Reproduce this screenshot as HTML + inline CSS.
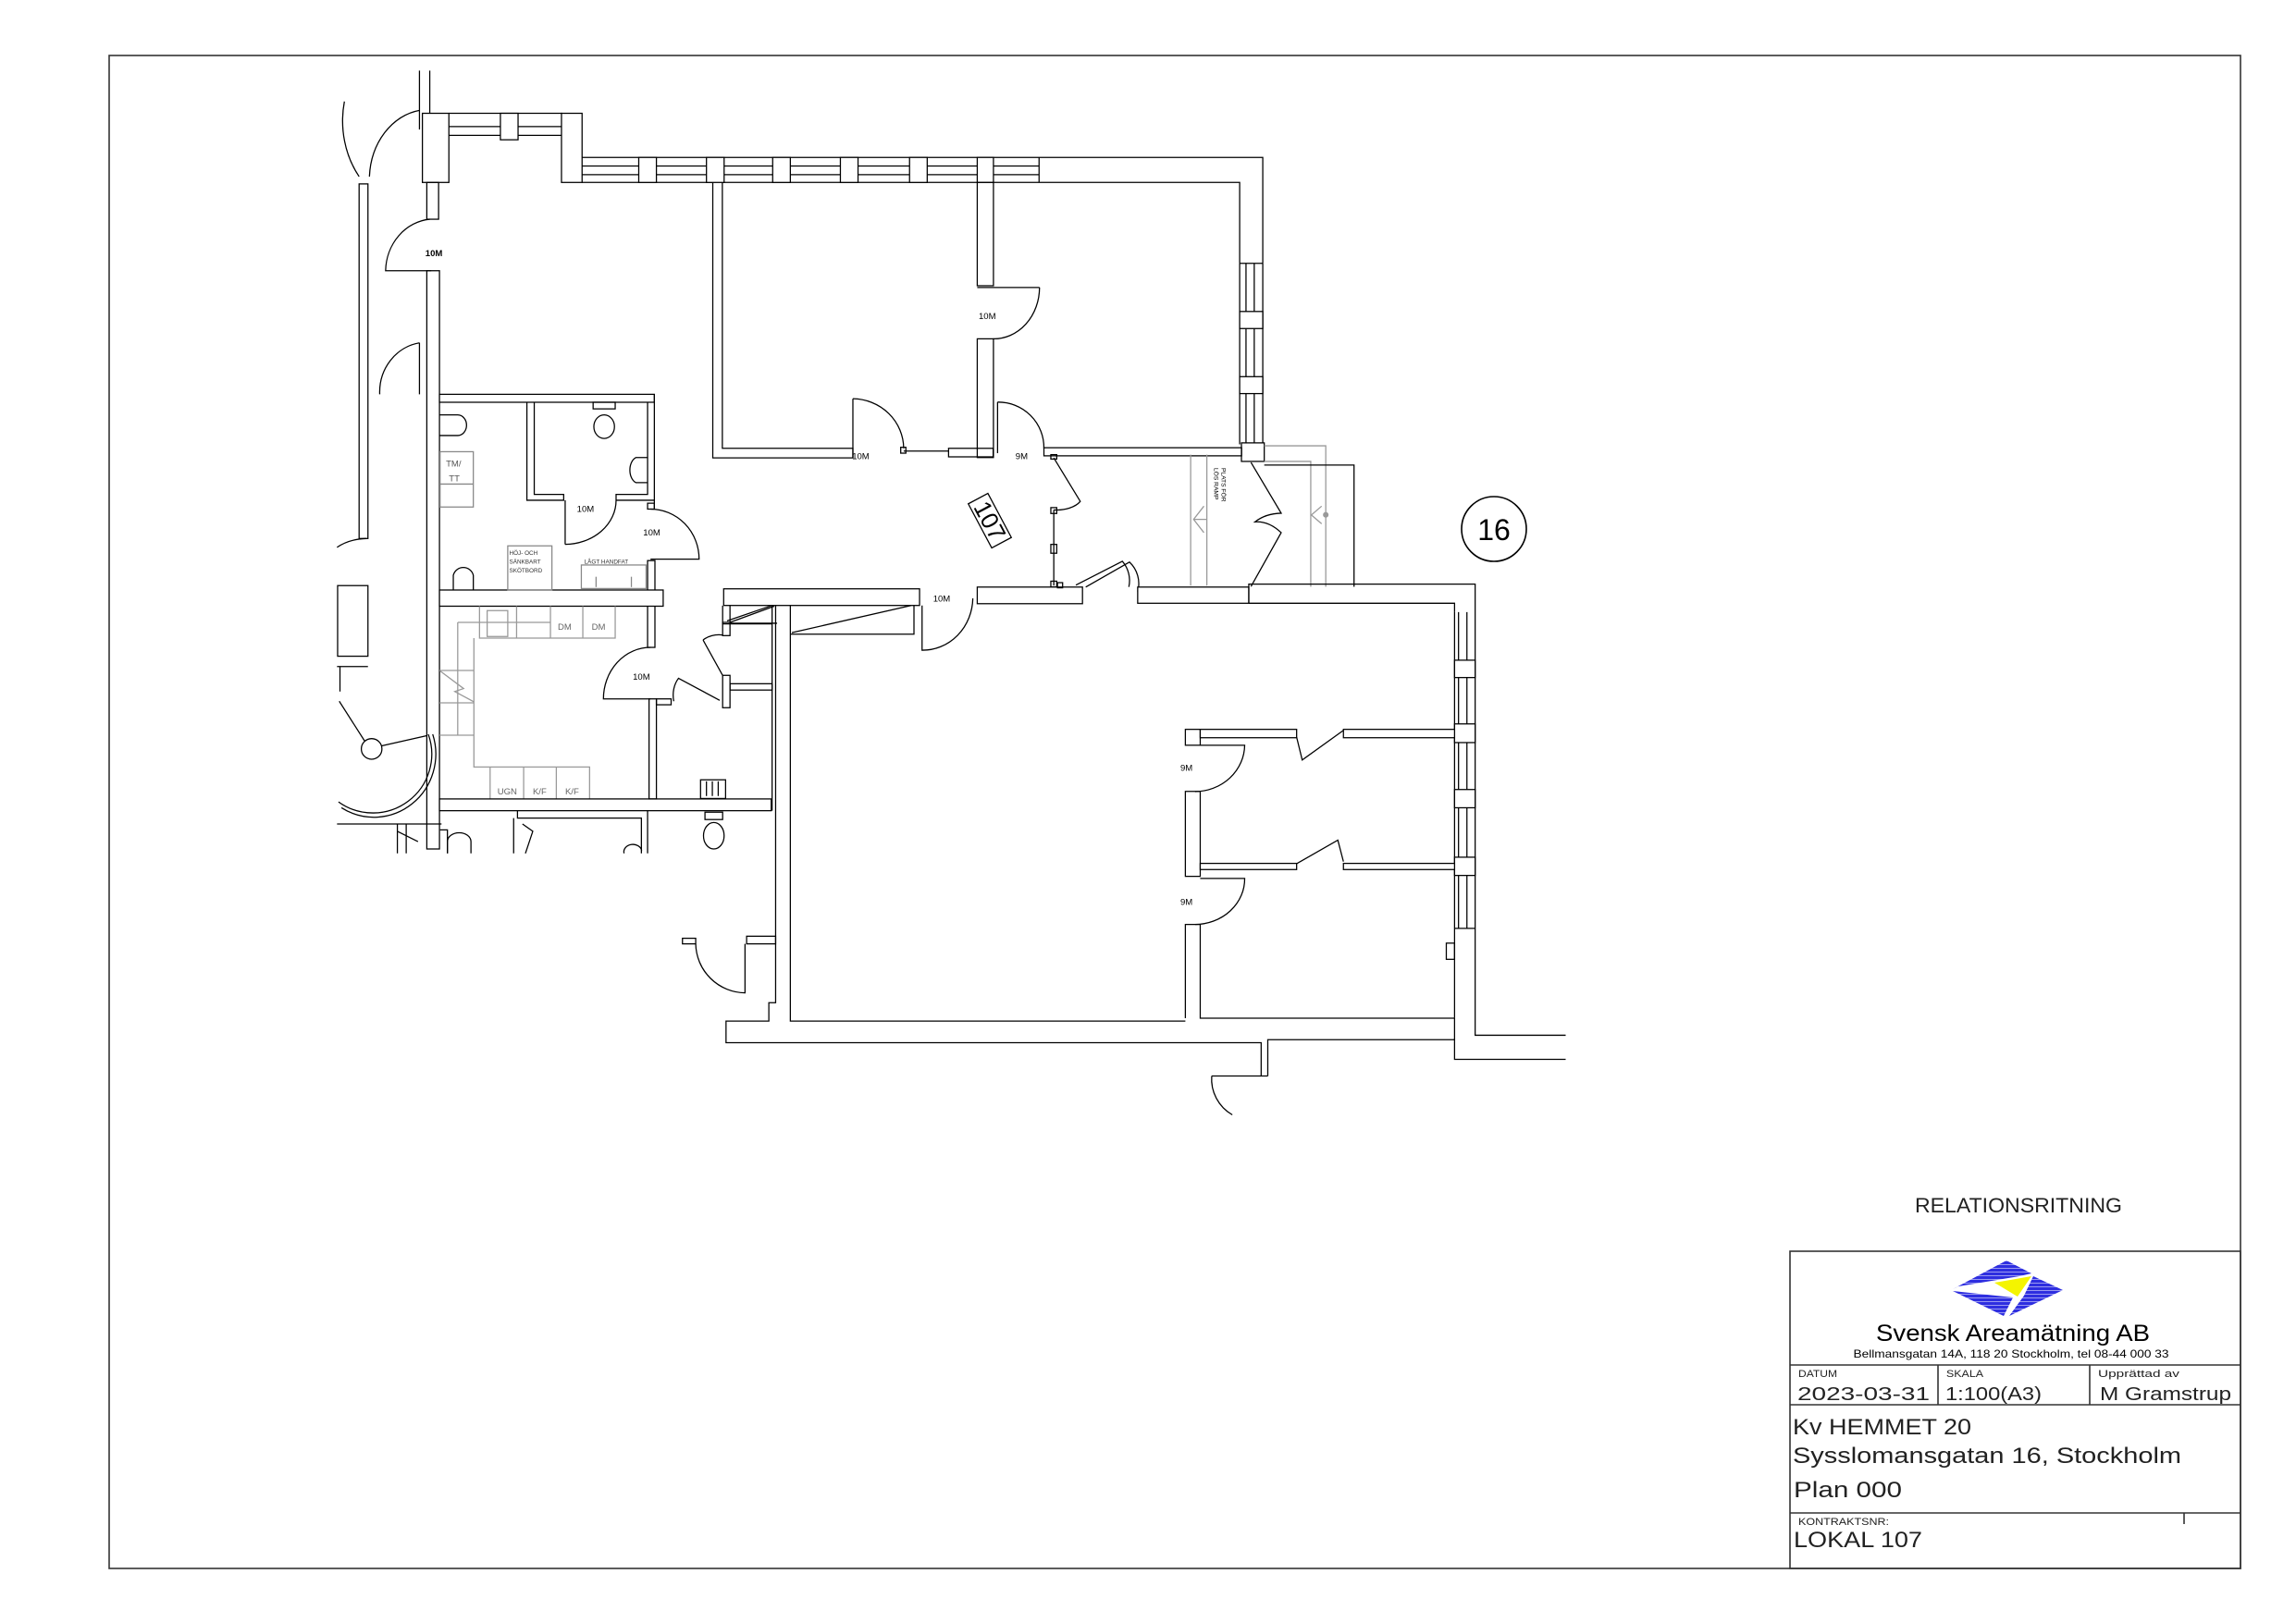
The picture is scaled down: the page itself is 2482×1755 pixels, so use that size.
<!DOCTYPE html>
<html><head><meta charset="utf-8"><style>
html,body{margin:0;padding:0;background:#fff}
svg{display:block}
text{font-family:"Liberation Sans",sans-serif}
</style></head><body>
<svg width="2482" height="1755" viewBox="0 0 2482 1755" xmlns="http://www.w3.org/2000/svg">
<defs>
<pattern id="hat" width="4" height="4" patternUnits="userSpaceOnUse">
<rect width="4" height="4" fill="#2e2ee0"/><rect y="3" width="4" height="1" fill="#9a9af0"/>
</pattern>
</defs>
<rect x="0" y="0" width="2482" height="1755" fill="#fff"/>
<!-- frame -->
<rect x="118" y="60" width="2304" height="1636" fill="none" stroke="#333" stroke-width="1.6"/>

<g transform="scale(1.591)" fill="none" stroke="#000" stroke-width="0.8">
<!-- TOP LEFT -->
<line x1="292" y1="48" x2="292" y2="88"/>
<rect x="287" y="77" width="18" height="47" fill="#fff"/>
<line x1="305" y1="77" x2="382" y2="77"/>
<line x1="305" y1="86" x2="382" y2="86"/>
<line x1="305" y1="92" x2="382" y2="92"/>
<rect x="340" y="77" width="12" height="18" fill="#fff"/>
<rect x="381.5" y="77" width="14" height="47" fill="#fff"/>
<rect x="290" y="124" width="8" height="25"/>
<path d="M292 149 A33 36 0 0 0 262 184 H293"/>
<rect x="290" y="184" width="8.6" height="393"/>
<!-- far left -->
<rect x="244" y="125" width="6" height="241"/>
<path d="M234 69 A50 60 0 0 0 244 120"/>
<path d="M285 75 A40 48 0 0 0 251 120"/>
<line x1="285" y1="48" x2="285" y2="88"/>
<path d="M285 233 A32 34 0 0 0 258 268"/>
<line x1="285" y1="233" x2="285" y2="268"/>
<path d="M229 372 A30 20 0 0 1 249 366"/>
<rect x="229.4" y="398" width="20.6" height="48"/>
<path d="M291 499 A40 40 0 0 1 230 545"/>
<path d="M294 499 A42 43 0 0 1 232 549"/>
<circle cx="252.5" cy="509" r="7"/>
<line x1="230.5" y1="476.6" x2="248" y2="504"/>
<line x1="259" y1="507" x2="290" y2="500"/>
<line x1="229" y1="453" x2="250" y2="453"/>
<line x1="231" y1="453" x2="231" y2="470"/>
<line x1="229" y1="560" x2="300" y2="560"/>
<path d="M270 560 V580 M276 560 V580 M270 565 L284 572"/>
<!-- TOP WALL -->
<path d="M395.5 107 H858 V179"/>
<path d="M395.5 124 H484.3"/>
<path d="M490.8 124 H664 M675 124 H842.3 V179"/>
<line x1="395.5" y1="112.8" x2="706" y2="112.8"/>
<line x1="395.5" y1="118.7" x2="706" y2="118.7"/>
<line x1="706" y1="107" x2="706" y2="124"/>
<g fill="#fff">
<rect x="434" y="107" width="12" height="17"/>
<rect x="480" y="107" width="12" height="17"/>
<rect x="525" y="107" width="12" height="17"/>
<rect x="571" y="107" width="12" height="17"/>
<rect x="618" y="107" width="12" height="17"/>
<rect x="664" y="107" width="11" height="17"/>
</g>
<!-- right wall windows -->
<path d="M842.3 179 H858"/>
<line x1="846.6" y1="179" x2="846.6" y2="302"/>
<line x1="852.2" y1="179" x2="852.2" y2="302"/>
<line x1="842.3" y1="179" x2="842.3" y2="302"/>
<line x1="858" y1="179" x2="858" y2="302"/>
<rect x="842.3" y="211.7" width="15.7" height="11.6" fill="#fff"/>
<rect x="842.3" y="256" width="15.7" height="11.5" fill="#fff"/>
<rect x="843.5" y="301" width="15.5" height="12.6" fill="#fff"/>
<!-- room walls -->
<path d="M484.3 124 V311.2 H579.5 V304.7 H490.8 V124"/>
<path d="M579.5 271 V311"/>
<path d="M579.5 271 A35 34 0 0 1 614 304.7"/>
<line x1="614" y1="306.6" x2="644.5" y2="306.6"/>
<rect x="612" y="304" width="3.5" height="4"/>
<rect x="644.5" y="304.7" width="30.3" height="5.8"/>
<rect x="664" y="124" width="11" height="70.2"/>
<line x1="664" y1="195.4" x2="706.3" y2="195.4"/>
<path d="M706.3 195.4 A31 35 0 0 1 674.8 230.3"/>
<path d="M664 230.3 H675 V311 H664 Z"/>
<line x1="677.8" y1="273.3" x2="677.8" y2="308"/>
<path d="M677.8 273.3 A31 31 0 0 1 709.3 304.7"/>
<rect x="709.3" y="304.3" width="134.3" height="5.5"/>
<text x="579" y="312" font-size="6" stroke="none" fill="#000">10M</text>
<text x="665" y="217" font-size="6" stroke="none" fill="#000">10M</text>
<text x="690" y="312" font-size="6" stroke="none" fill="#000">9M</text>
<text x="289" y="174" font-size="6" font-weight="bold" stroke="none" fill="#000">10M</text>
<!-- door near 107 -->
<path d="M716 311.2 L734 340.8 A18 10 0 0 1 716 346.6"/>
<line x1="716" y1="346.6" x2="716" y2="398"/>
<rect x="714" y="345" width="4" height="4"/>
<rect x="714" y="370" width="4" height="6"/>
<rect x="714" y="395" width="4" height="4"/>
<rect x="714" y="309" width="4" height="3"/>
<path d="M731 397.7 L762.6 381.5 A20 20 0 0 1 767 398.9"/>
<!-- ramp area -->
<g stroke="#999">
<line x1="809" y1="309" x2="809" y2="398"/>
<line x1="820" y1="309" x2="820" y2="398"/>
<path d="M818 344 L811 353 L818 362 M811 353 H820"/>
<path d="M859 313.6 H890.6 V398.8 M859 303 H900.8 V398.8"/>
<path d="M898 344 L891 350 L898 356"/>
<circle cx="900.8" cy="349.9" r="1.5" fill="#999"/>
</g>
<path d="M859 316.1 H920 V398.8"/>
<path d="M850 314.3 L870.5 348.8 Q860 349 852.7 354.7 Q862 354 870.5 362 L850 398.6"/>
<text transform="translate(830 318) rotate(90)" font-size="4.2" stroke="none" fill="#000">PLATS FÖR</text>
<text transform="translate(825 318) rotate(90)" font-size="4.2" stroke="none" fill="#000">LÖS RAMP</text>
<!-- big room top wall -->
<rect x="664" y="399" width="71.5" height="11.3" fill="#fff"/>
<rect x="718.5" y="396" width="3.5" height="3.5"/>
<path d="M737.7 399 L767.4 382 A20 20 0 0 1 773 402"/>
<rect x="773" y="399" width="75.5" height="11" fill="#fff"/>
<path d="M848.5 410 V397 H1002.3 V703.6 H1063.8"/>
<path d="M848.5 410 H988.3 V416"/>
<line x1="988.3" y1="416" x2="988.3" y2="691.6"/>
<line x1="991" y1="416" x2="991" y2="631"/>
<line x1="996.7" y1="416" x2="996.7" y2="631"/>
<line x1="988.3" y1="631" x2="1002.3" y2="631"/>
<g fill="#fff">
<rect x="988.3" y="448.7" width="14" height="11.8"/>
<rect x="988.3" y="492" width="14" height="12.7"/>
<rect x="988.3" y="536.6" width="14" height="12.4"/>
<rect x="988.3" y="582.6" width="14" height="12.4"/>
</g>
<rect x="982.7" y="641" width="5.6" height="11"/>
<path d="M988.3 706 V720 H1063.8"/>
<!-- bottom outer -->
<path d="M527 411.5 V681.5 H522.4 V694 H493.3 V708.7 H856.9 V731.3"/>
<path d="M861.4 731.3 V706.6 H988.3 V691.6"/>
<path d="M823.3 731.3 H861.4 M823.3 731.3 A28 28 0 0 0 837.3 757.7"/>
<path d="M537 411.5 V694 H805.4"/>
<!-- partition -->
<path d="M805.4 692 V628.3 H815.5 V692 H988.3"/>
<path d="M805.4 595.6 V537.9 H815.5 V595.6 Z"/>
<rect x="805.4" y="495.7" width="10.1" height="10.8"/>
<rect x="815.5" y="495.7" width="65.5" height="5.7" fill="#fff"/>
<rect x="912.8" y="495.7" width="75.5" height="5.7" fill="#fff"/>
<rect x="815.5" y="586.8" width="65.5" height="4.2" fill="#fff"/>
<rect x="912.8" y="586.8" width="75.5" height="4.2" fill="#fff"/>
<path d="M881 501 L884.8 516.5 L912.8 496.4"/>
<path d="M881 587 L909 571 L912.8 585.6"/>
<path d="M815.5 506.5 H845.7 A34 32 0 0 1 812 538"/>
<path d="M815.5 597 H845.7 A34 31 0 0 1 812 628.3"/>
<text x="802" y="524" font-size="6" stroke="none" fill="#000">9M</text>
<text x="802" y="615" font-size="6" stroke="none" fill="#000">9M</text>
<!-- top-left of big room -->
<rect x="491.7" y="400.2" width="133.1" height="11.3" fill="#fff"/>
<path d="M496 411.5 V423.6 H528 M496 423 L526 412"/>
<path d="M537 431 H621 V411.5 M538 430 L619 411.5"/>
<path d="M626.5 411.5 V441.9 A34 36 0 0 0 661 406.7"/>
<text x="634" y="409" font-size="6" stroke="none" fill="#000">10M</text>
<!-- WC / kitchen -->
<rect x="298.6" y="268" width="146" height="5.4" fill="#fff"/>
<path d="M358 273.4 V340 H383 V336 H363 V273.4"/>
<path d="M418.6 340 V336 H440 V273.4 M418.6 340 H444.6"/>
<line x1="444.6" y1="268" x2="444.6" y2="346"/>
<rect x="440" y="342" width="4.6" height="4"/>
<line x1="384" y1="340" x2="384" y2="370"/>
<path d="M384 370 A35 30 0 0 0 418.6 340"/>
<text x="392" y="348" font-size="6" stroke="none" fill="#000">10M</text>
<path d="M442 346 A33 34 0 0 1 475 380 H442"/>
<text x="437" y="364" font-size="6" stroke="none" fill="#000">10M</text>
<rect x="440" y="381" width="5" height="59"/>
<rect x="298.6" y="401" width="152" height="11" fill="#fff"/>
<rect x="403" y="273.4" width="15" height="4.5"/>
<ellipse cx="410.5" cy="290" rx="7" ry="8"/>
<path d="M440 311 H432 A6 9 0 0 0 432 328 H440"/>
<path d="M298.6 282 H311 A6 7 0 0 1 311 296 H298.6"/>
<g stroke="#888">
<rect x="299" y="307" width="22.6" height="37.6"/>
<line x1="299" y1="329" x2="321.6" y2="329"/>
<rect x="345" y="371" width="30" height="30"/>
<rect x="395" y="384" width="44" height="16"/>
<line x1="405" y1="392" x2="405" y2="399"/><line x1="429" y1="392" x2="429" y2="399"/>
</g>
<text x="303" y="317" font-size="6" stroke="none" fill="#555">TM/</text>
<text x="305" y="327" font-size="6" stroke="none" fill="#555">TT</text>
<text x="346" y="377" font-size="4" stroke="none" fill="#333">HÖJ- OCH</text>
<text x="346" y="383" font-size="4" stroke="none" fill="#333">SÄNKBART</text>
<text x="346" y="389" font-size="4" stroke="none" fill="#333">SKÖTBORD</text>
<text x="397" y="383" font-size="4" stroke="none" fill="#333">LÅGT HANDFAT</text>
<path d="M308 401 V391 A7 7 0 0 1 321.6 391 V401"/>
<!-- kitchen counters -->
<g stroke="#999">
<path d="M325.8 412 V433.7 H418 V412"/>
<path d="M311 423 H374 M311 423 V499.7 M322 433.7 V521.3 H400.6 V543.7 M333 521.3 V543.7"/>
<line x1="298.6" y1="455.7" x2="322" y2="455.7"/>
<line x1="298.6" y1="477.7" x2="322" y2="477.7"/>
<line x1="298.6" y1="499.7" x2="322" y2="499.7"/>
<line x1="374" y1="412" x2="374" y2="433.7"/><line x1="396" y1="412" x2="396" y2="433.7"/>
<line x1="351" y1="412" x2="351" y2="433.7"/>
<rect x="331" y="415" width="14" height="17.6"/>
<line x1="355.8" y1="521.3" x2="355.8" y2="543.7"/><line x1="378" y1="521.3" x2="378" y2="543.7"/>
<path d="M299 456 L315 468 L309 470 L322 477"/>
</g>
<text x="379" y="428" font-size="6" stroke="none" fill="#666">DM</text>
<text x="402" y="428" font-size="6" stroke="none" fill="#666">DM</text>
<text x="338" y="540" font-size="6" stroke="none" fill="#666">UGN</text>
<text x="362" y="540" font-size="6" stroke="none" fill="#666">K/F</text>
<text x="384" y="540" font-size="6" stroke="none" fill="#666">K/F</text>
<rect x="298.6" y="543" width="225.4" height="8" fill="#fff"/>
<path d="M442 440 A32 35 0 0 0 410 475 H442"/>
<text x="430" y="462" font-size="6" stroke="none" fill="#000">10M</text>
<rect x="441" y="475" width="5" height="68"/>
<rect x="446" y="475" width="10" height="4"/>
<path d="M457.8 476.6 A12 16 0 0 1 461 461 L489 476"/>
<path d="M477.7 435 L491 459 M477.7 435 A14 10 0 0 1 491 431.6"/>
<rect x="491" y="423" width="5" height="9"/>
<rect x="491" y="459" width="5" height="22"/>
<rect x="496" y="464.7" width="28.6" height="4.3"/>
<path d="M491 411.6 V424 H524.6 M494 422 L524.6 411.5"/>
<line x1="524.6" y1="411.6" x2="524.6" y2="551"/>
<rect x="476" y="530" width="17" height="12.7"/>
<path d="M480 531 V541 M484 531 V541 M488 531 V541"/>
<!-- lower cut region -->
<path d="M351.6 551 V556 H435.8 V580 M440 551 V580 M349 556 V580"/>
<ellipse cx="485" cy="568" rx="7" ry="9"/>
<rect x="479" y="552" width="12" height="5"/>
<path d="M304 580 V572 A8 6 0 0 1 320 572 V580"/>
<path d="M299 564 H304 V580"/>
<path d="M355 560 L362 565 L357 580"/>
<path d="M424 580 A6 5 0 0 1 436 578"/>
<!-- bottom left small door -->
<rect x="463.7" y="637.7" width="9" height="3.8"/>
<rect x="507.3" y="636.3" width="19.7" height="5.2"/>
<path d="M472.7 641.5 A34 34 0 0 0 506.2 674.8 V641.5"/>
</g>

<!-- 107 label -->
<g transform="translate(1070 563) rotate(62)">
<rect x="-27" y="-12" width="54" height="24" fill="#fff" stroke="#000" stroke-width="1.3"/>
<text x="0" y="9" font-size="26" text-anchor="middle" fill="#000">107</text>
</g>

<!-- circle 16 -->
<circle cx="1615" cy="572" r="35" fill="none" stroke="#000" stroke-width="1.6"/>
<text x="1615" y="584" font-size="32" text-anchor="middle" fill="#000">16</text>

<!-- title -->
<text x="2182" y="1311" font-size="22" text-anchor="middle" fill="#222" textLength="224" lengthAdjust="spacingAndGlyphs">RELATIONSRITNING</text>
<g fill="none" stroke="#333" stroke-width="1.6">
<rect x="1935" y="1353" width="487" height="343"/>
<line x1="1935" y1="1476" x2="2422" y2="1476"/>
<line x1="1935" y1="1519" x2="2422" y2="1519"/>
<line x1="1935" y1="1636" x2="2422" y2="1636"/>
<line x1="2095" y1="1476" x2="2095" y2="1519"/>
<line x1="2259" y1="1476" x2="2259" y2="1519"/>
<line x1="2361" y1="1636" x2="2361" y2="1648"/>
</g>
<!-- logo -->
<polygon points="2111,1394 2169,1363 2196,1377 2183,1380 2117,1391" fill="url(#hat)"/>
<polygon points="2111,1396 2176,1403 2166,1423" fill="url(#hat)"/>
<polygon points="2198,1380 2230,1395 2172,1423 2188,1401" fill="url(#hat)"/>
<polygon points="2156,1387 2196,1380 2181,1402" fill="#f4f400"/>
<text x="2176" y="1450" font-size="25" text-anchor="middle" fill="#000" textLength="296" lengthAdjust="spacingAndGlyphs">Svensk Areamätning AB</text>
<text x="2174" y="1468" font-size="12" text-anchor="middle" fill="#000" textLength="341" lengthAdjust="spacingAndGlyphs">Bellmansgatan 14A, 118 20 Stockholm, tel 08-44 000 33</text>
<g fill="#222">
<text x="1944" y="1489" font-size="11" textLength="42" lengthAdjust="spacingAndGlyphs">DATUM</text>
<text x="1943" y="1514" font-size="20" textLength="143" lengthAdjust="spacingAndGlyphs">2023-03-31</text>
<text x="2104" y="1489" font-size="11" textLength="40" lengthAdjust="spacingAndGlyphs">SKALA</text>
<text x="2103" y="1514" font-size="20" textLength="104" lengthAdjust="spacingAndGlyphs">1:100(A3)</text>
<text x="2268" y="1489" font-size="11" textLength="88" lengthAdjust="spacingAndGlyphs">Upprättad av</text>
<text x="2270" y="1514" font-size="20" textLength="142" lengthAdjust="spacingAndGlyphs">M Gramstrup</text>
<text x="1938" y="1551" font-size="24" textLength="193" lengthAdjust="spacingAndGlyphs">Kv HEMMET 20</text>
<text x="1938" y="1582" font-size="24" textLength="420" lengthAdjust="spacingAndGlyphs">Sysslomansgatan 16, Stockholm</text>
<text x="1939" y="1619" font-size="24" textLength="117" lengthAdjust="spacingAndGlyphs">Plan 000</text>
<text x="1944" y="1649" font-size="11" textLength="98" lengthAdjust="spacingAndGlyphs">KONTRAKTSNR:</text>
<text x="1939" y="1673" font-size="24" textLength="139" lengthAdjust="spacingAndGlyphs">LOKAL 107</text>
</g>
</svg>
</body></html>
